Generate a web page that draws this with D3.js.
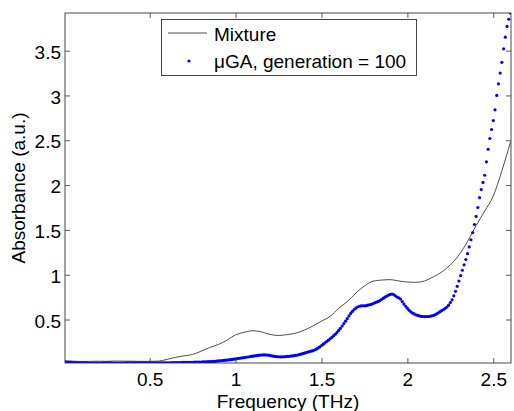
<!DOCTYPE html>
<html>
<head>
<meta charset="utf-8">
<script src="https://cdn.jsdelivr.net/npm/d3@7"></script>
<style>
  body { margin: 0; background: #fff; }
  svg { font-family: "Liberation Sans", Arial, Helvetica, sans-serif; }
</style>
</head>
<body>
<div id="chart"></div>
<script>
// mixture spectrum, sampled every 0.05 THz starting at 0 THz
const mixStep = 0.05;
const mixAbs = [0.040, 0.036, 0.032, 0.033, 0.035, 0.034, 0.037, 0.036, 0.035, 0.033,
                0.034, 0.036, 0.055, 0.078, 0.095, 0.110, 0.148, 0.188, 0.222, 0.270,
                0.330, 0.357, 0.375, 0.362, 0.334, 0.322, 0.332, 0.348, 0.382, 0.428,
                0.482, 0.535, 0.625, 0.700, 0.795, 0.875, 0.928, 0.940, 0.945, 0.930,
                0.918, 0.915, 0.930, 0.975, 1.030, 1.110, 1.220, 1.370, 1.550, 1.710,
                1.880, 2.160, 2.480];

// uGA fit, one value every 0.01 THz starting at 0.01 THz
const gaStart = 0.01;
const gaStep = 0.01;
const gaAbs = [
  0.024, 0.023, 0.022, 0.021, 0.020, 0.019, 0.018, 0.018, 0.017, 0.017,
  0.016, 0.016, 0.016, 0.015, 0.015, 0.015, 0.015, 0.015, 0.015, 0.015,
  0.015, 0.015, 0.016, 0.016, 0.016, 0.016, 0.016, 0.016, 0.015, 0.015,
  0.015, 0.015, 0.015, 0.015, 0.015, 0.016, 0.016, 0.016, 0.016, 0.016,
  0.016, 0.016, 0.016, 0.016, 0.016, 0.016, 0.016, 0.016, 0.016, 0.016,
  0.016, 0.016, 0.016, 0.017, 0.017, 0.017, 0.017, 0.017, 0.018, 0.018,
  0.018, 0.018, 0.019, 0.019, 0.019, 0.020, 0.020, 0.020, 0.021, 0.021,
  0.021, 0.022, 0.022, 0.023, 0.023, 0.024, 0.024, 0.025, 0.025, 0.026,
  0.027, 0.028, 0.029, 0.030, 0.031, 0.032, 0.033, 0.034, 0.036, 0.038,
  0.040, 0.042, 0.044, 0.046, 0.048, 0.050, 0.052, 0.055, 0.058, 0.061,
  0.064, 0.067, 0.070, 0.073, 0.076, 0.079, 0.082, 0.085, 0.088, 0.091,
  0.094, 0.097, 0.100, 0.102, 0.104, 0.105, 0.105, 0.104, 0.102, 0.099,
  0.095, 0.091, 0.088, 0.086, 0.085, 0.084, 0.084, 0.085, 0.086, 0.088,
  0.090, 0.092, 0.094, 0.097, 0.100, 0.104, 0.108, 0.113, 0.119, 0.125,
  0.131, 0.137, 0.142, 0.147, 0.152, 0.160, 0.170, 0.182, 0.195, 0.210,
  0.225, 0.240, 0.255, 0.270, 0.285, 0.300, 0.318, 0.336, 0.356, 0.378,
  0.402, 0.428, 0.455, 0.482, 0.510, 0.540, 0.568, 0.592, 0.612, 0.628,
  0.640, 0.648, 0.652, 0.654, 0.653, 0.655, 0.660, 0.665, 0.670, 0.678,
  0.686, 0.694, 0.702, 0.712, 0.725, 0.738, 0.750, 0.762, 0.772, 0.780,
  0.785, 0.778, 0.765, 0.750, 0.742, 0.728, 0.700, 0.672, 0.648, 0.625,
  0.603, 0.586, 0.572, 0.562, 0.553, 0.546, 0.540, 0.536, 0.534, 0.533,
  0.533, 0.534, 0.536, 0.540, 0.545, 0.552, 0.562, 0.575, 0.588, 0.600,
  0.612, 0.625, 0.640, 0.660, 0.690, 0.720, 0.765, 0.815, 0.870, 0.930,
  0.990, 1.050, 1.110, 1.170, 1.235, 1.310, 1.390, 1.470, 1.560, 1.650,
  1.750, 1.860, 1.950, 2.030, 2.110, 2.260, 2.400, 2.520, 2.620, 2.720,
  2.840, 3.000, 3.130, 3.250, 3.370, 3.520, 3.650, 3.770, 3.850, 3.920
];

const xTicks = [0.5, 1, 1.5, 2, 2.5];
const yTicks = [0.5, 1, 1.5, 2, 2.5, 3, 3.5];
const legendLabels = ["Mixture", "\u03bcGA, generation = 100"];

const mixData = mixAbs.map((v, i) => ({ f: i * mixStep, v: v }));
const gaData = gaAbs.map((v, i) => ({ f: gaStart + i * gaStep, v: v }));

const width = 514, height = 411;
const margin = { top: 13, right: 3, bottom: 48, left: 65 };
const w = width - margin.left - margin.right;
const h = height - margin.top - margin.bottom;
const fontSize = 19;

const svg = d3.select("#chart").append("svg")
    .attr("width", width)
    .attr("height", height);

const g = svg.append("g")
    .attr("transform", `translate(${margin.left},${margin.top})`);

const x = d3.scaleLinear().domain([0.007, 2.603]).range([0, w]);
const y = d3.scaleLinear().domain([0.015, 3.92]).range([h, 0]);

// clip data to the axes box
g.append("clipPath").attr("id", "plotClip")
  .append("rect").attr("width", w).attr("height", h);

const plot = g.append("g").attr("clip-path", "url(#plotClip)");

// mixture line
const line = d3.line()
    .x(d => x(d.f))
    .y(d => y(d.v))
    .curve(d3.curveMonotoneX);

plot.append("path")
    .datum(mixData)
    .attr("fill", "none")
    .attr("stroke", "#222")
    .attr("stroke-width", 0.8)
    .attr("d", line);

// uGA dots
plot.selectAll(".ga")
    .data(gaData)
    .enter()
    .append("circle")
    .attr("class", "ga")
    .attr("cx", d => x(d.f))
    .attr("cy", d => y(d.v))
    .attr("r", 1.6)
    .attr("fill", "#0000ff");

// axes, ticks pointing inward on all four sides
function styleAxis(sel) {
  sel.select(".domain").remove();
  sel.selectAll(".tick line").attr("stroke", "#333").attr("stroke-width", 0.8);
  sel.selectAll("text").attr("font-size", fontSize).attr("fill", "#000")
     .attr("font-family", "Liberation Sans, Arial, sans-serif");
}

g.append("g")
    .attr("transform", `translate(0,${h})`)
    .call(d3.axisBottom(x).tickValues(xTicks).tickFormat(d3.format("")).tickSizeInner(-5).tickSizeOuter(0).tickPadding(10))
    .call(styleAxis);

g.append("g")
    .call(d3.axisTop(x).tickValues(xTicks).tickFormat("").tickSizeInner(-5).tickSizeOuter(0))
    .call(styleAxis);

g.append("g")
    .call(d3.axisLeft(y).tickValues(yTicks).tickFormat(d3.format("")).tickSizeInner(-5).tickSizeOuter(0).tickPadding(4))
    .call(styleAxis)
    .selectAll("text").attr("dy", "0.4em");

g.append("g")
    .attr("transform", `translate(${w},0)`)
    .call(d3.axisRight(y).tickValues(yTicks).tickFormat("").tickSizeInner(-5).tickSizeOuter(0))
    .call(styleAxis);

// axes box
g.append("rect")
    .attr("width", w)
    .attr("height", h)
    .attr("fill", "none")
    .attr("stroke", "#333")
    .attr("stroke-width", 0.9);

// axis labels
svg.append("text")
    .attr("x", margin.left + w / 2)
    .attr("y", 408)
    .attr("text-anchor", "middle")
    .attr("font-size", fontSize)
    .text("Frequency (THz)");

svg.append("text")
    .attr("transform", `translate(25,${margin.top + h / 2}) rotate(-90)`)
    .attr("text-anchor", "middle")
    .attr("font-size", fontSize)
    .text("Absorbance (a.u.)");

// legend
const legend = svg.append("g").attr("transform", "translate(161.5,19.5)");

legend.append("rect")
    .attr("width", 255)
    .attr("height", 56)
    .attr("fill", "#fff")
    .attr("stroke", "#333")
    .attr("stroke-width", 0.9);

legend.append("line")
    .attr("x1", 6.5).attr("x2", 45.5)
    .attr("y1", 13.5).attr("y2", 13.5)
    .attr("stroke", "#222")
    .attr("stroke-width", 0.8);

legend.append("circle")
    .attr("cx", 27.5).attr("cy", 41.5)
    .attr("r", 1.6)
    .attr("fill", "#0000ff");

legend.selectAll(".leg-text")
    .data(legendLabels)
    .enter()
    .append("text")
    .attr("class", "leg-text")
    .attr("x", 52.5)
    .attr("y", (d, i) => 21.5 + i * 26.5)
    .attr("font-size", fontSize)
    .text(d => d);
</script>
</body>
</html>
